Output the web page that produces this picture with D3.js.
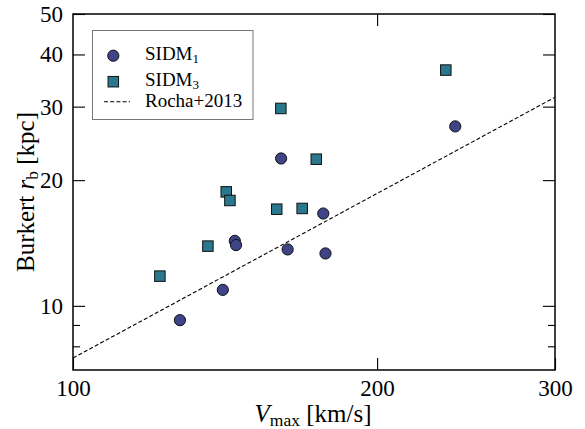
<!DOCTYPE html>
<html>
<head>
<meta charset="utf-8">
<script src="https://cdn.jsdelivr.net/npm/d3@7"></script>
</head>
<body style="margin:0; background:#fff">
<div id="chart"></div>
<script>
var svgWidth = 585;
var svgHeight = 429;

var margin = { top: 14, right: 30, bottom: 59, left: 73 };
var width = 555 - margin.left;
var height = 370 - margin.top;

// data
var sidm1Vmax = [127.6, 140.7, 144.6, 145.0, 160.7, 163.1, 176.9, 177.8, 239.0];
var sidm1Rb   = [9.24, 10.92, 14.31, 13.98, 22.54, 13.65, 16.64, 13.35, 26.9];
var sidm3Vmax = [121.9, 136.0, 141.8, 143.0, 159.1, 160.6, 168.6, 174.1, 233.9];
var sidm3Rb   = [11.78, 13.9, 18.75, 17.88, 17.04, 29.7, 17.11, 22.45, 36.7];
var rochaVmax = [100, 300];
var rochaRb   = [7.5, 31.6];
var xTicks = [100, 200, 300];
var yTicks = [10, 20, 30, 40, 50];
var yMinorTicks = [8, 9];

var FONT = "Liberation Serif";

var svg = d3.select("#chart")
  .append("svg")
  .attr("width", svgWidth)
  .attr("height", svgHeight)
  .attr("font-family", FONT);

var chartGroup = svg.append("g")
  .attr("transform", `translate(${margin.left}, ${margin.top})`);

var xScale = d3.scaleLog().domain([100, 300]).range([0, width]);
var yScale = d3.scaleLog().domain([7.02, 50]).range([height, 0]);

// clip for the reference line
svg.append("clipPath").attr("id", "clip")
  .append("rect").attr("width", width).attr("height", height);

// axes: bottom/left with labels, top/right mirrored ticks
var bottomAxis = d3.axisBottom(xScale).tickValues(xTicks).tickFormat(d3.format("d"))
  .tickSizeInner(-12).tickSizeOuter(0).tickPadding(10);
var topAxis = d3.axisTop(xScale).tickValues([200]).tickFormat("")
  .tickSizeInner(-12).tickSizeOuter(0);
var leftAxis = d3.axisLeft(yScale).tickValues(yTicks).tickFormat(d3.format("d"))
  .tickSizeInner(-12).tickSizeOuter(0).tickPadding(10);
var rightAxis = d3.axisRight(yScale).tickValues(yTicks).tickFormat("")
  .tickSizeInner(-12).tickSizeOuter(0);
var leftMinor = d3.axisLeft(yScale).tickValues(yMinorTicks).tickFormat("")
  .tickSizeInner(-7).tickSizeOuter(0);
var rightMinor = d3.axisRight(yScale).tickValues(yMinorTicks).tickFormat("")
  .tickSizeInner(-7).tickSizeOuter(0);

var axes = [
  chartGroup.append("g").attr("transform", `translate(0, ${height})`).call(bottomAxis),
  chartGroup.append("g").call(topAxis),
  chartGroup.append("g").call(leftAxis),
  chartGroup.append("g").attr("transform", `translate(${width}, 0)`).call(rightAxis),
  chartGroup.append("g").call(leftMinor),
  chartGroup.append("g").attr("transform", `translate(${width}, 0)`).call(rightMinor)
];
axes.forEach(function(g) {
  g.attr("font-family", FONT).attr("font-size", 23);
  g.select(".domain").remove();
  g.selectAll(".tick line").attr("stroke", "#000").attr("stroke-width", 1.1);
  g.selectAll(".tick text").attr("font-family", FONT).attr("font-size", 23).attr("fill", "#000");
});

// Rocha+2013 line
var rocha = rochaVmax.map(function(v, i) { return [v, rochaRb[i]]; });
chartGroup.append("path")
  .datum(rocha)
  .attr("clip-path", "url(#clip)")
  .attr("fill", "none")
  .attr("stroke", "#000")
  .attr("stroke-width", 1.1)
  .attr("stroke-dasharray", "4,2.2")
  .attr("d", d3.line().x(d => xScale(d[0])).y(d => yScale(d[1])));

// SIDM1 circles
var sidm1 = sidm1Vmax.map(function(v, i) { return { v: v, r: sidm1Rb[i] }; });
chartGroup.selectAll("circle.s1")
  .data(sidm1)
  .enter()
  .append("circle")
  .attr("class", "s1")
  .attr("cx", d => xScale(d.v))
  .attr("cy", d => yScale(d.r))
  .attr("r", 5.6)
  .attr("fill", "#3f4489")
  .attr("stroke", "#111")
  .attr("stroke-width", 1);

// SIDM3 squares
var sidm3 = sidm3Vmax.map(function(v, i) { return { v: v, r: sidm3Rb[i] }; });
var side = 10.5;
chartGroup.selectAll("rect.s3")
  .data(sidm3)
  .enter()
  .append("rect")
  .attr("class", "s3")
  .attr("x", d => xScale(d.v) - side / 2)
  .attr("y", d => yScale(d.r) - side / 2)
  .attr("width", side)
  .attr("height", side)
  .attr("fill", "#2a788e")
  .attr("stroke", "#111")
  .attr("stroke-width", 1);

// frame
chartGroup.append("rect")
  .attr("width", width)
  .attr("height", height)
  .attr("fill", "none")
  .attr("stroke", "#000")
  .attr("stroke-width", 1.5);

// legend
var legend = svg.append("g");
legend.append("rect")
  .attr("x", 92.5).attr("y", 30.5)
  .attr("width", 160.5).attr("height", 89)
  .attr("fill", "#fff")
  .attr("stroke", "#777")
  .attr("stroke-width", 1);
legend.append("circle")
  .attr("cx", 113.3).attr("cy", 55.7).attr("r", 5.6)
  .attr("fill", "#3f4489").attr("stroke", "#111");
legend.append("rect")
  .attr("x", 113.3 - side / 2).attr("y", 81.7 - side / 2)
  .attr("width", side).attr("height", side)
  .attr("fill", "#2a788e").attr("stroke", "#111");
legend.append("line")
  .attr("x1", 104).attr("x2", 130).attr("y1", 101.7).attr("y2", 101.7)
  .attr("stroke", "#000").attr("stroke-width", 1.1).attr("stroke-dasharray", "4,2.2");

var legendLabels = [["SIDM", "1", 59.5], ["SIDM", "3", 86], ["Rocha+2013", "", 106.5]];
legendLabels.forEach(function(l) {
  var t = legend.append("text").attr("x", 145).attr("y", l[2])
    .attr("font-family", FONT).attr("font-size", 19);
  t.append("tspan").text(l[0]);
  if (l[1]) t.append("tspan").attr("dy", 3).attr("font-size", 13).text(l[1]);
});

// axis labels
var xl = svg.append("text")
  .attr("x", 313).attr("y", 422)
  .attr("text-anchor", "middle")
  .attr("font-family", FONT).attr("font-size", 25);
xl.append("tspan").attr("font-style", "italic").text("V");
xl.append("tspan").attr("dy", 4).attr("font-size", 17.5).text("max");
xl.append("tspan").attr("dy", -4).text(" [km/s]");

var yl = svg.append("text")
  .attr("transform", `translate(34, ${margin.top + height / 2}) rotate(-90)`)
  .attr("text-anchor", "middle")
  .attr("font-family", FONT).attr("font-size", 25);
yl.append("tspan").text("Burkert ");
yl.append("tspan").attr("font-style", "italic").text("r");
yl.append("tspan").attr("dy", 4).attr("font-size", 17.5).text("b");
yl.append("tspan").attr("dy", -4).text(" [kpc]");
</script>
</body>
</html>
